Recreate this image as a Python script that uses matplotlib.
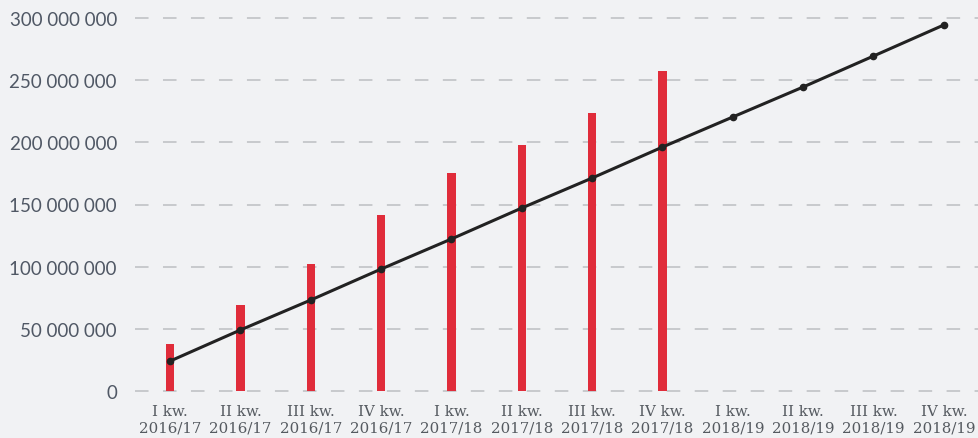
import matplotlib
matplotlib.use("Agg")
import matplotlib.pyplot as plt
import numpy as np

categories = ["I kw.\n2016/17", "II kw.\n2016/17", "III kw.\n2016/17", "IV kw.\n2016/17",
              "I kw.\n2017/18", "II kw.\n2017/18", "III kw.\n2017/18", "IV kw.\n2017/18",
              "I kw.\n2018/19", "II kw.\n2018/19", "III kw.\n2018/19", "IV kw.\n2018/19"]
bar_values = [37.8e6, 69.2e6, 102.1e6, 141.6e6, 175.3e6, 197.9e6, 223.6e6, 257.4e6]
line_values = [24.1e6, 49.1e6, 73.2e6, 98.1e6, 122.3e6, 147.2e6, 171.3e6, 196.2e6,
               220.4e6, 244.5e6, 269.4e6, 294.4e6]
yticks = [0, 50e6, 100e6, 150e6, 200e6, 250e6, 300e6]
ytick_labels = ["0", "50 000 000", "100 000 000", "150 000 000", "200 000 000",
                "250 000 000", "300 000 000"]

bg = "#f1f2f4"
fig = plt.figure(figsize=(9.79, 4.39), dpi=100, facecolor=bg)
ax = fig.add_axes([135 / 979, 47 / 439, 1 - 135 / 979, 373 / 439], facecolor=bg)

x = np.arange(len(categories))
for yv in yticks:
    ax.axhline(yv, color="#c4c6c9", lw=1.3, dashes=(7.5, 8), zorder=0, clip_on=False)

ax.bar(x[:len(bar_values)], bar_values, width=0.12, color="#e02c3a", zorder=2)
ax.plot(x, line_values, color="#222222", lw=2.2, marker="o", markersize=4.5, zorder=3)

ax.set_xlim(-0.5, len(categories) - 0.5)
ax.set_ylim(0, 300e6)
ax.set_yticks(yticks)
ax.set_yticklabels(ytick_labels, fontfamily="Lato", fontsize=13.5, color="#505865")
ax.set_xticks(x)
ax.set_xticklabels(categories, fontfamily="DejaVu Serif", fontsize=10.8, color="#555a60",
                   linespacing=1.25)
ax.tick_params(axis="y", length=0, pad=13)
ax.tick_params(axis="x", length=0, pad=9.5)
for s in ax.spines.values():
    s.set_visible(False)

fig.savefig("out.png", dpi=100, facecolor=bg)
